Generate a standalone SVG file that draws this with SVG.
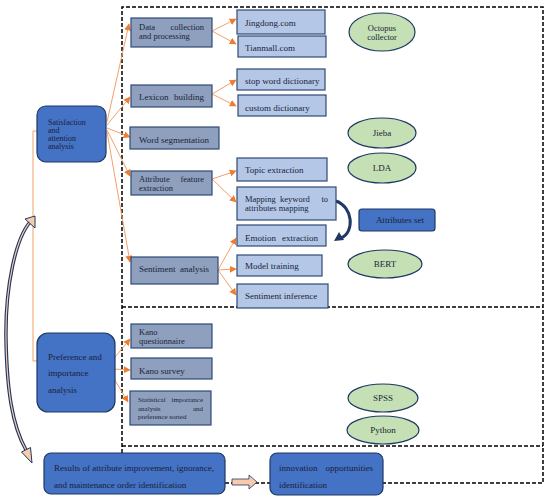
<svg xmlns="http://www.w3.org/2000/svg" width="550" height="501" viewBox="0 0 550 501">
<defs>
<style>
text{font-family:"Liberation Serif","Times New Roman",serif;font-size:9px;fill:#1a1f3a}
.l1{fill:#8EA0BD;stroke:#2F4A75;stroke-width:1.2}
.l2{fill:#B4C7E7;stroke:#2F4A75;stroke-width:1.2}
.blue{fill:#4472C4;stroke:#1F3864;stroke-width:1.2}
.ell{fill:#C5E0B4;stroke:#1F3864;stroke-width:1.2}
.dash{fill:none;stroke:#000;stroke-width:1.5;stroke-dasharray:4 2}
.con{fill:none;stroke:#F4A06A;stroke-width:1;marker-end:url(#ah)}
.c{text-anchor:middle}
.e{text-anchor:end}
.sm{font-size:7px}
.s8{font-size:8px}
.s85{font-size:8.5px}
</style>
<marker id="ah" viewBox="0 0 10 10" refX="9" refY="5" markerWidth="7" markerHeight="7" markerUnits="userSpaceOnUse" orient="auto">
<path d="M0,0 L10,5 L0,10 z" fill="#ED7D31"/>
</marker>
</defs>

<g id="frame">
<path class="dash" d="M122,453 V7 H543 V483 H383"/>
<path class="dash" d="M225,483 H270"/>
<path class="dash" d="M122,307 H543"/>
<path class="dash" d="M122,446 H543"/>
</g>

<g id="connectors">
<path class="con" d="M107,122 L129,24"/>
<path class="con" d="M107,125 L130,97"/>
<path class="con" d="M107,128 L130,137"/>
<path class="con" d="M107,130 L130,176"/>
<path class="con" d="M107,132 L130,262"/>
<path class="con" d="M212,31 L236,19"/>
<path class="con" d="M212,31 L236,44"/>
<path class="con" d="M212,94 L236,80"/>
<path class="con" d="M212,94 L236,106"/>
<path class="con" d="M212,179 L236,171"/>
<path class="con" d="M212,179 L236,202"/>
<path class="con" d="M218,270 L236,238"/>
<path class="con" d="M218,270 L236,269"/>
<path class="con" d="M218,270 L236,295"/>
<path class="con" d="M111,362 L130,339"/>
<path class="con" d="M113,369 L130,370"/>
<path class="con" d="M110,372 L128,402"/>
<path d="M37,131 H33 V361 H37" fill="none" stroke="#F4A06A" stroke-width="1"/>
<path d="M336,201 C353,207 355,232 341,238" fill="none" stroke="#1F3864" stroke-width="3"/>
<polygon points="334,241 339,232 344,240" fill="#1F3864"/>
<path d="M33,219 C15,235 5,290 6,340 C7,390 12,425 26,450" fill="none" stroke="#1F3864" stroke-width="3.5"/>
<path d="M33,219 C15,235 5,290 6,340 C7,390 12,425 26,450" fill="none" stroke="#F8CBAD" stroke-width="1.2"/>
<polygon points="25,219 35,216 35,228" fill="#F8CBAD" stroke="#1F3864" stroke-width="1"/>
<polygon points="21.5,452 30.5,447.5 32,463" fill="#F8CBAD" stroke="#1F3864" stroke-width="1"/>
<polygon points="232,479 249,479 249,475 257,482 249,489 249,485 232,485" fill="#F8CBAD" stroke="#1F3864" stroke-width="0.8"/>
</g>

<g id="satisfaction">
<rect class="blue" x="37" y="106" width="69" height="56" rx="9"/>
<text class="s8" x="48" y="125">Satisfaction</text>
<text class="s8" x="48" y="133">and</text>
<text class="s8" x="48" y="141">attention</text>
<text class="s8" x="48" y="149">analysis</text>
</g>
<g id="data-collection">
<rect class="l1" x="131" y="18" width="81" height="29"/>
<text class="s85" x="139" y="30">Data</text><text class="s85 e" x="204" y="30">collection</text>
<text class="s85" x="139" y="39">and processing</text>
</g>
<g id="jingdong">
<rect class="l2" x="237" y="10" width="88" height="24"/>
<text x="245" y="26">Jingdong.com</text>
</g>
<g id="tianmall">
<rect class="l2" x="238" y="36" width="88" height="21"/>
<text x="245" y="51">Tianmall.com</text>
</g>
<g id="octopus">
<ellipse class="ell" cx="382" cy="32" rx="33" ry="19"/>
<text class="c s85" x="382" y="31">Octopus</text>
<text class="c s85" x="382" y="40">collector</text>
</g>
<g id="lexicon">
<rect class="l1" x="131" y="85" width="81" height="22"/>
<text x="139" y="100">Lexicon</text><text class="e" x="204" y="100">building</text>
</g>
<g id="stopword">
<rect class="l2" x="237" y="69" width="88" height="21"/>
<text x="245" y="84">stop word dictionary</text>
</g>
<g id="custom">
<rect class="l2" x="238" y="95" width="88" height="21"/>
<text x="245" y="111">custom dictionary</text>
</g>
<g id="word-seg">
<rect class="l1" x="130" y="127" width="89" height="22"/>
<text x="139" y="143">Word segmentation</text>
</g>
<g id="jieba">
<ellipse class="ell" cx="382" cy="133" rx="34" ry="15"/>
<text class="c" x="382" y="136">Jieba</text>
</g>
<g id="topic">
<rect class="l2" x="237" y="158" width="90" height="23"/>
<text x="245" y="173">Topic extraction</text>
</g>
<g id="lda">
<ellipse class="ell" cx="382" cy="168" rx="34" ry="15"/>
<text class="c" x="382" y="171">LDA</text>
</g>
<g id="attribute">
<rect class="l1" x="131" y="171" width="81" height="24"/>
<text class="s85" x="139" y="182">Attribute</text><text class="s85 e" x="204" y="182">feature</text>
<text class="s85" x="139" y="191">extraction</text>
</g>
<g id="mapping">
<rect class="l2" x="237" y="187" width="99" height="33"/>
<text class="s85" x="245" y="202">Mapping</text><text class="s85" x="280" y="202">keyword</text><text class="s85 e" x="328" y="202">to</text>
<text class="s85" x="245" y="211">attributes mapping</text>
</g>
<g id="attributes-set">
<rect class="blue" x="359" y="209" width="76" height="22" rx="3"/>
<text class="c" x="400" y="223">Attributes set</text>
</g>
<g id="emotion">
<rect class="l2" x="237" y="225" width="89" height="21"/>
<text x="245" y="241">Emotion</text><text class="e" x="318" y="241">extraction</text>
</g>
<g id="model">
<rect class="l2" x="237" y="255" width="85" height="21"/>
<text x="245" y="269">Model training</text>
</g>
<g id="inference">
<rect class="l2" x="237" y="284" width="91" height="24"/>
<text x="245" y="299">Sentiment inference</text>
</g>
<g id="bert">
<ellipse class="ell" cx="385" cy="264" rx="37" ry="14"/>
<text class="c" x="385" y="267">BERT</text>
</g>
<g id="sentiment">
<rect class="l1" x="131" y="257" width="87" height="27"/>
<text x="139" y="272">Sentiment</text><text class="e" x="209" y="272">analysis</text>
</g>
<g id="preference">
<rect class="blue" x="37" y="333" width="78" height="79" rx="11"/>
<text x="48" y="360">Preference and</text>
<text x="48" y="376">importance</text>
<text x="48" y="393">analysis</text>
</g>
<g id="kano-q">
<rect class="l1" x="131" y="324" width="81" height="24"/>
<text class="s85" x="139" y="335">Kano</text>
<text class="s85" x="139" y="344">questionnaire</text>
</g>
<g id="kano-s">
<rect class="l1" x="131" y="358" width="81" height="21"/>
<text x="139" y="374">Kano survey</text>
</g>
<g id="statistical">
<rect class="l1" x="130" y="391" width="81" height="34"/>
<text class="sm" x="138" y="402">Statistical</text><text class="sm e" x="203" y="402">importance</text>
<text class="sm" x="138" y="411">analysis</text><text class="sm e" x="203" y="411">and</text>
<text class="sm" x="138" y="419">preference sorted</text>
</g>
<g id="spss">
<ellipse class="ell" cx="383" cy="398" rx="35" ry="14"/>
<text class="c" x="383" y="401">SPSS</text>
</g>
<g id="python">
<ellipse class="ell" cx="383" cy="430" rx="36" ry="14"/>
<text class="c" x="383" y="433">Python</text>
</g>
<g id="results">
<rect class="blue" x="44" y="453" width="181" height="41" rx="7"/>
<text x="54" y="471" textLength="160" lengthAdjust="spacingAndGlyphs">Results of attribute improvement, ignorance,</text>
<text x="54" y="488">and maintenance order identification</text>
</g>
<g id="innovation">
<rect class="blue" x="270" y="453" width="113" height="42" rx="7"/>
<text x="279" y="471">innovation</text><text class="e" x="373" y="471">opportunities</text>
<text x="279" y="488">identification</text>
</g>
</svg>
